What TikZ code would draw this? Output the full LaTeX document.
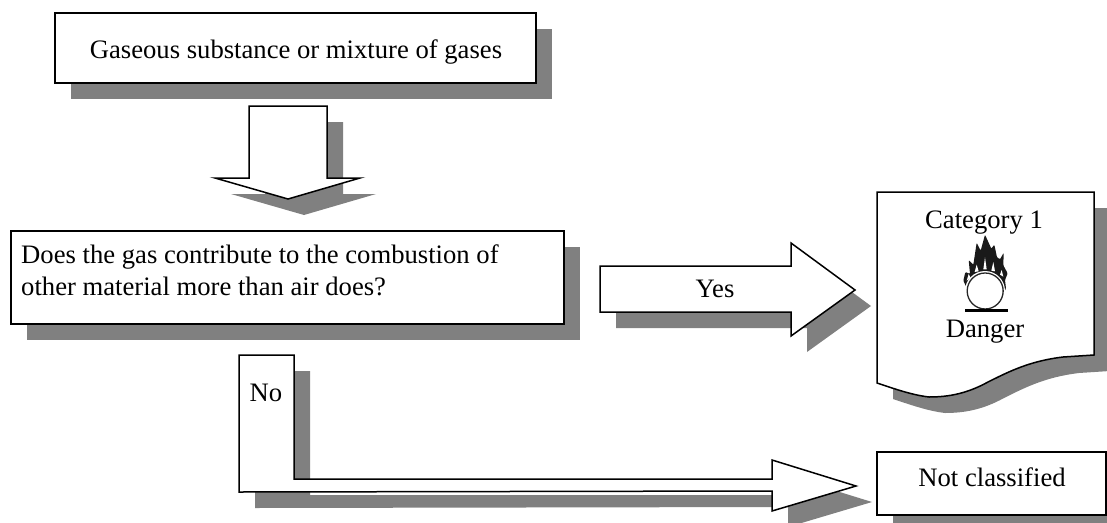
\documentclass[tikz,border=0pt]{standalone}
\usepackage{fontspec}
\setmainfont{Liberation Serif}
\definecolor{shadowgrey}{HTML}{808080}
\tikzset{
  shadowshape/.style={fill=shadowgrey,draw=none,xshift=16pt,yshift=-16pt},
  blockshape/.style={fill=white,draw=black,line width=1.5pt,line join=miter},
  lbl/.style={font=\fontsize{26.65}{32}\selectfont,inner sep=0pt,align=left,anchor=base},
  glyphink/.style={fill=black!90,draw=none}
}
\def\boxA{(55,13) rectangle (536,83)}
\def\arrowDown{(249,106) -- (327,106) -- (327,178) -- (360,178) -- (288,199) -- (215,178) -- (249,178) -- cycle}
\def\boxB{(11,231) rectangle (564,324)}
\def\arrowYes{(600,266) -- (791,266) -- (791,243) -- (855,290) -- (791,336) -- (791,312) -- (600,312) -- cycle}
\def\docShape{(877,192) -- (1094,192) -- (1094,355) -- (1063,357) .. controls (1030,361) and (1010,371) .. (988,382) .. controls (968,393) and (950,397) .. (929,397) .. controls (912,395) and (895,389) .. (877,383) -- cycle}
\def\arrowNo{(239,355) -- (294,355) -- (294,479) -- (772,479) -- (772,460) -- (856,486) -- (772,511) -- (772,491) -- (239,492) -- cycle}
\def\boxC{(877,452) rectangle (1106,515)}
\begin{document}
\begin{tikzpicture}[x=1pt,y=-1pt]
\useasboundingbox (0,0) rectangle (1107,522);
\clip (0,0) rectangle (1107,522);
\foreach \s in {\boxA,\arrowDown,\boxB,\arrowYes,\docShape,\arrowNo,\boxC}{
  \path[shadowshape] \s;
  \path[blockshape] \s;
}
\node[lbl] (gas) at (296,58.5) {Gaseous substance or mixture of gases};
\node[lbl,anchor=base west] (q1) at (21,263.5) {Does the gas contribute to the combustion of};
\node[lbl,anchor=base west] (q2) at (21,295) {other material more than air does?};
\node[lbl] (yes) at (715,297) {Yes};
\node[lbl] (no) at (266,401) {No};
\node[lbl] (cat) at (984,228) {Category 1};
\node[lbl] (dan) at (985,337) {Danger};
\node[lbl] (nc) at (992,486) {Not classified};
% flame over circle pictogram
\begin{scope}[shift={(950,230)},x=0.3333pt,y=-0.3333pt]
\fill[glyphink,rounded corners=1pt] (52,178) -- (40,152) -- (46,126) -- (60,132) -- (56,90) -- (70,104) -- (80,38) -- (92,62) -- (105,14) -- (124,56) -- (133,44) -- (141,82) -- (150,88) -- (161,68) -- (160,106) -- (173,130) -- (165,150) -- (168,176) -- (158,192) -- (105,150) -- cycle;
\fill[white] (105,82) -- (110,118) -- (100,118) -- cycle;
\fill[white] (80,104) -- (86,124) -- (74,126) -- cycle;
\fill[white] (130,96) -- (135,124) -- (124,122) -- cycle;
\fill[white] (155,120) -- (160,140) -- (150,134) -- cycle;
\fill[white] (56,132) -- (62,144) -- (50,152) -- cycle;
\fill[white] (105,183) circle [radius=60];
\draw[draw=black!85,line width=1.3pt] (105.5,183) circle [radius=54];
\draw[black,line width=3pt] (45,241) -- (173,241);
\end{scope}
\end{tikzpicture}
\end{document}
